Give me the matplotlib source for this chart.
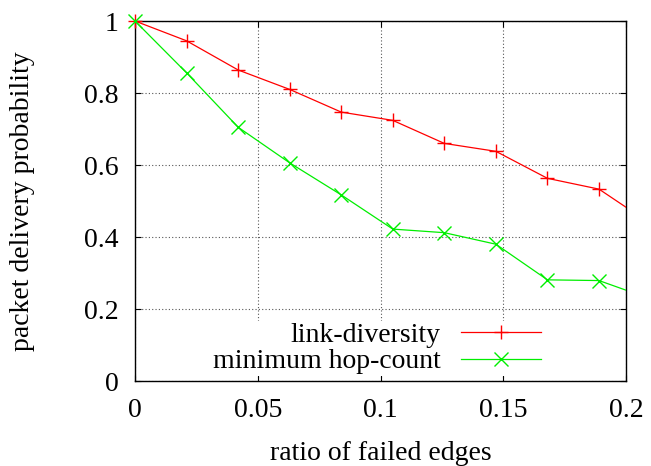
import matplotlib
matplotlib.use("Agg")
import matplotlib.pyplot as plt
from matplotlib.lines import Line2D
from matplotlib.ticker import FormatStrFormatter

# ratio of failed edges (last point lies just past the x range and gets clipped)
ratio = [0, 0.021, 0.042, 0.063, 0.084, 0.105, 0.126, 0.147, 0.168, 0.189, 0.21]
link_diversity = [1.0, 0.945, 0.864, 0.810, 0.747, 0.724, 0.660, 0.638, 0.563, 0.533, 0.437]
min_hop_count = [1.0, 0.856, 0.705, 0.606, 0.517, 0.422, 0.412, 0.380, 0.281, 0.279, 0.228]

labels = ["link-diversity", "minimum hop-count"]
x_ticks = [0, 0.05, 0.1, 0.15, 0.2]
y_ticks = [0, 0.2, 0.4, 0.6, 0.8, 1]

RED = "#ff0000"
GREEN = "#00ee00"

plt.rcParams["font.family"] = ["Liberation Serif", "DejaVu Serif"]
plt.rcParams["font.size"] = 20


def main():
    fig = plt.figure(figsize=(6.51, 4.66), dpi=100)
    ax = fig.add_axes([0.2074, 0.1824, 0.7542, 0.7725])

    series = [(link_diversity, RED, "+"), (min_hop_count, GREEN, "x")]
    handles = []
    for (values, color, marker), label in zip(series, labels):
        ax.plot(ratio, values, color=color, lw=0.9, zorder=3)
        # gnuplot draws points on the border unclipped
        ax.plot(ratio[:-1], values[:-1], ls="none", marker=marker, color=color,
                markersize=10, markeredgewidth=1.0, clip_on=False, zorder=4)
        handles.append(Line2D([], [], color=color, lw=0.9, marker=marker,
                              markersize=10, markeredgewidth=1.0))

    ax.set_xlim(0, 0.2)
    ax.set_ylim(0, 1)
    ax.set_xticks(x_ticks)
    ax.set_yticks(y_ticks)
    ax.xaxis.set_major_formatter(FormatStrFormatter("%g"))
    ax.yaxis.set_major_formatter(FormatStrFormatter("%g"))
    ax.tick_params(direction="in", top=True, right=True, length=4.5, width=0.8)
    ax.tick_params(axis="x", pad=12)
    ax.tick_params(axis="y", pad=12)
    ax.grid(True, linestyle=(0, (1, 2)), color="#555555", lw=0.8)
    for s in ax.spines.values():
        s.set_linewidth(1.0)

    ax.set_xlabel("ratio of failed edges", labelpad=13)
    ax.set_ylabel("packet delivery probability", labelpad=35)

    leg = ax.legend(handles, labels, loc="center right", bbox_to_anchor=(0.83, 0.09),
                    markerfirst=False, handlelength=2.9, handletextpad=0.72,
                    labelspacing=0.03, borderpad=0.05, borderaxespad=0,
                    frameon=True, fancybox=False, framealpha=1)
    leg.get_frame().set_edgecolor("none")
    leg.get_frame().set_facecolor("white")

    fig.savefig("out.png", dpi=100)


if __name__ == "__main__":
    main()
